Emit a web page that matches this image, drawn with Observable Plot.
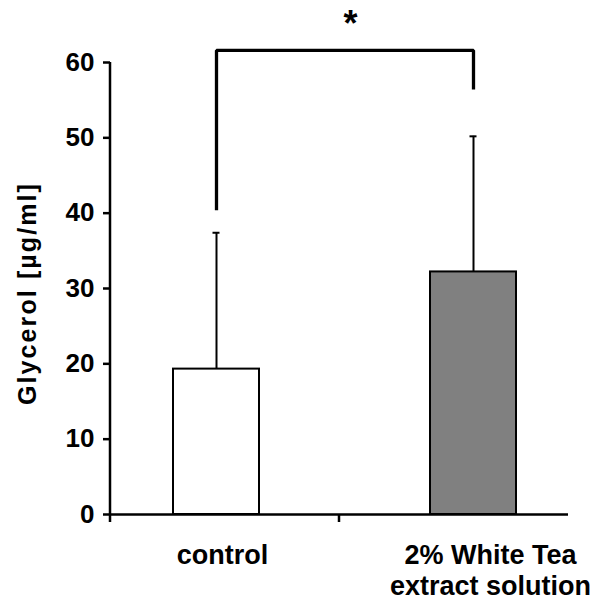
<!DOCTYPE html>
<html>
<head>
<meta charset="utf-8">
<script src="https://cdn.jsdelivr.net/npm/d3@7"></script>
<script src="https://cdn.jsdelivr.net/npm/@observablehq/plot@0.6"></script>
<style>
  html, body { margin: 0; padding: 0; background: #fff; }
</style>
</head>
<body>
<div id="chart"></div>
<script>
const categories = ["control", "2% White Tea extract solution"];
const tickLabels = ["control", "2% White Tea\nextract solution"];
const means = [19.3, 32.2];
const sds = [18.1, 18.0];
const fills = ["#ffffff", "#808080"];
const yTicks = [0, 10, 20, 30, 40, 50, 60];
const bracketY = [40.4, 61.6, 56.4];
const yLabel = "Glycerol [µg/ml]";
const sigMark = "*";

const data = categories.map((c, i) => ({group: c, mean: means[i], upper: means[i] + sds[i], fill: fills[i]}));
const bracket = [
  {x: categories[0], y: bracketY[0]},
  {x: categories[0], y: bracketY[1]},
  {x: categories[1], y: bracketY[1]},
  {x: categories[1], y: bracketY[2]}
];

const axisExtras = (index, scales, values, dimensions) => {
  const {marginLeft, marginRight, width} = dimensions;
  const y0 = scales.y(0), yTop = scales.y(60);
  const xm = (marginLeft + width - marginRight) / 2;
  const g = d3.create("svg:g").attr("stroke", "black").attr("stroke-width", 2.5);
  g.append("line").attr("x1", marginLeft).attr("x2", marginLeft).attr("y1", yTop).attr("y2", y0 + 8);
  g.append("line").attr("x1", xm).attr("x2", xm).attr("y1", y0).attr("y2", y0 + 8);
  return g.node();
};

const plot = Plot.plot({
  width: 602,
  height: 600,
  marginLeft: 110,
  marginRight: 34,
  marginTop: 62,
  marginBottom: 86,
  style: {fontFamily: "'Liberation Sans', Arial, sans-serif", fontWeight: "bold", fontSize: "26px", color: "black", background: "white", overflow: "visible"},
  x: {domain: categories, paddingInner: 0.665, paddingOuter: 0.222, align: 0.544},
  y: {domain: [0, 60]},
  marks: [
    Plot.barY(data, {x: "group", y: "mean", fill: "fill", stroke: "black", strokeWidth: 2}),
    Plot.ruleX(data, {x: "group", y1: "mean", y2: "upper", stroke: "black", strokeWidth: 2}),
    Plot.tickY(data, {x: "group", y: "upper", stroke: "black", strokeWidth: 2, insetLeft: 39.5, insetRight: 39.5}),
    Plot.ruleY([0], {stroke: "black", strokeWidth: 2.5}),
    axisExtras,
    Plot.axisY(yTicks, {tickSize: 7, tickPadding: 9, strokeWidth: 2.5, fontSize: 26, label: null}),
    Plot.axisX([categories[0]], {tickSize: 0, tickPadding: 28, dx: 6, fontSize: 27, lineHeight: 1.14, tickFormat: (d) => tickLabels[categories.indexOf(d)], label: null}),
    Plot.axisX([categories[1]], {tickSize: 0, tickPadding: 28, dx: 17, fontSize: 27, lineHeight: 1.14, tickFormat: (d) => tickLabels[categories.indexOf(d)], label: null}),
    Plot.line(bracket, {x: "x", y: "y", stroke: "black", strokeWidth: 3.3, strokeLinejoin: "miter", strokeLinecap: "butt"}),
    Plot.text([sigMark], {frameAnchor: "top", dx: 11, dy: -52, fontSize: 36, fill: "black"}),
    Plot.text([yLabel], {frameAnchor: "left", textAnchor: "middle", rotate: -90, dx: -83, dy: 5, fontSize: 25, fill: "black"})
  ]
});

d3.select(plot).selectAll("text").filter(function() { return this.textContent === yLabel; }).style("letter-spacing", "2.1px");
document.getElementById("chart").appendChild(plot);
</script>
</body>
</html>
